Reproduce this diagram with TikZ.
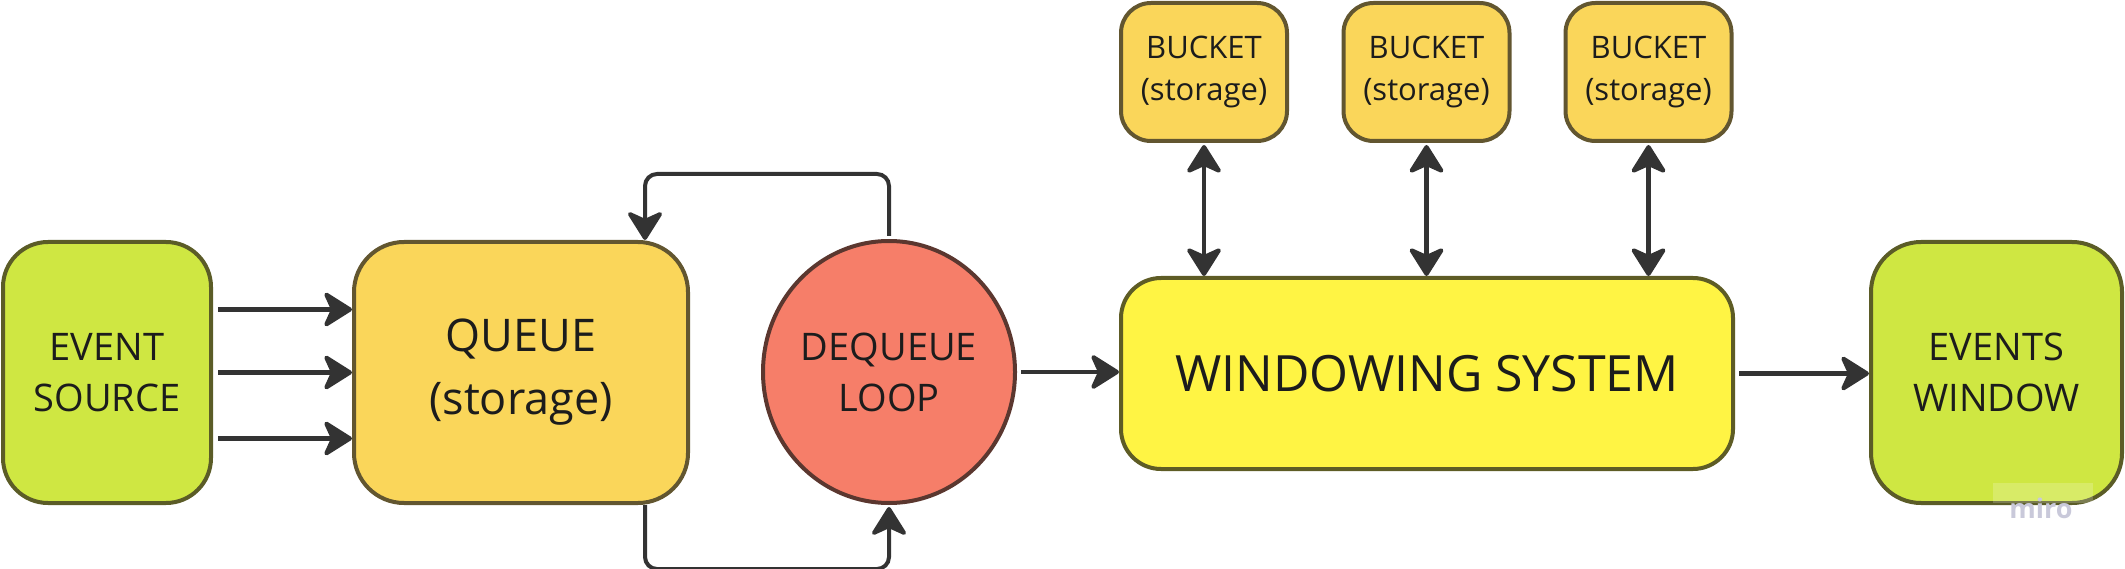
\documentclass[tikz,border=0pt]{standalone}
\usepackage{fontspec}
\setmainfont{Open Sans}
\usetikzlibrary{arrows.meta,shapes.geometric,calc}
\definecolor{lime}{HTML}{CFE742}
\definecolor{limeedge}{HTML}{5B5C27}
\definecolor{amber}{HTML}{FAD65A}
\definecolor{amberedge}{HTML}{625630}
\definecolor{sun}{HTML}{FFF444}
\definecolor{sunedge}{HTML}{5E5C25}
\definecolor{salmon}{HTML}{F67E69}
\definecolor{salmonedge}{HTML}{5B372F}
\definecolor{ink}{HTML}{1C1C1C}
\definecolor{wire}{HTML}{333333}
\definecolor{miroc}{HTML}{C9C9DA}
\tikzset{
  tip/.tip={Stealth[length=32pt, width=40pt, inset=9pt, round]},
  box/.style={rectangle, draw, line width=4pt, align=center, text=ink, inner sep=0pt},
  mainfont/.style={font=\fontsize{38}{51}\selectfont},
  arr/.style={draw=wire, line width=4.2pt, -tip},
  darr/.style={draw=wire, line width=4.2pt, tip-tip},
  loopline/.style={draw=wire, line width=4pt, rounded corners=12pt, -tip},
}
\begin{document}
\begin{tikzpicture}[x=1pt, y=-1pt]
\useasboundingbox (0,0) rectangle (2125,569);
\node[box, mainfont, fill=lime, draw=limeedge, rounded corners=45pt, minimum width=208pt, minimum height=261pt] (src) at (107,372.5) {EVENT\\SOURCE};
\node[box, fill=amber, draw=amberedge, rounded corners=50pt, minimum width=334pt, minimum height=261pt, font=\fontsize{45}{63}\selectfont] (queue) at (521,372.5) {QUEUE\\(storage)};
\node[ellipse, draw=salmonedge, fill=salmon, line width=4pt, mainfont, text=ink, align=center, inner sep=0pt, minimum width=252pt, minimum height=262pt] (deq) at (889,372) {DEQUEUE\\LOOP};
\node[box, fill=sun, draw=sunedge, rounded corners=40pt, minimum width=612pt, minimum height=191pt, font=\fontsize{50}{60}\selectfont] (win) at (1427,373.5) {WINDOWING SYSTEM};
\node[box, fill=amber, draw=amberedge, rounded corners=30pt, minimum width=166pt, minimum height=138pt, font=\fontsize{31}{42}\selectfont] (b1) at (1204,72) {BUCKET\\(storage)};
\node[box, fill=amber, draw=amberedge, rounded corners=30pt, minimum width=166pt, minimum height=138pt, font=\fontsize{31}{42}\selectfont] (b2) at (1426.5,72) {BUCKET\\(storage)};
\node[box, fill=amber, draw=amberedge, rounded corners=30pt, minimum width=166pt, minimum height=138pt, font=\fontsize{31}{42}\selectfont] (b3) at (1648.5,72) {BUCKET\\(storage)};
\node[box, mainfont, fill=lime, draw=limeedge, rounded corners=50pt, minimum width=251pt, minimum height=261pt] (evw) at (1996.5,372.5) {EVENTS\\WINDOW};
% source to queue
\draw[arr] ([shift={(5pt,63pt)}]src.east) -- ([yshift=63pt]queue.west);
\draw[arr] ([xshift=5pt]src.east) -- (queue.west);
\draw[arr] ([shift={(5pt,-66pt)}]src.east) -- ([yshift=-66pt]queue.west);
% loops
\draw[loopline] ([yshift=3pt]deq.north) -- ++(0,-62) -| ([xshift=-45pt]queue.north east);
\draw[loopline] ([xshift=-45pt]queue.south east) -- ++(0,64) -| ([yshift=-2pt]deq.south);
% main flow
\draw[arr] ([xshift=4pt]deq.east) -- (deq.east -| win.west);
\draw[arr] ([xshift=4pt]win.east) -- (win.east -| evw.west);
% buckets
\draw[darr] ([yshift=-2pt]b1.south) -- (b1.south |- win.north);
\draw[darr] ([yshift=-2pt]b2.south) -- (b2.south |- win.north);
\draw[darr] ([yshift=-2pt]b3.south) -- (b3.south |- win.north);
% watermark
\fill[white, opacity=0.2] (1993,483) rectangle (2093,503);
\node[text=miroc, font=\fontsize{27}{30}\bfseries, anchor=base, inner sep=0pt] (miro) at (2041,518) {miro};
\end{tikzpicture}
\end{document}
